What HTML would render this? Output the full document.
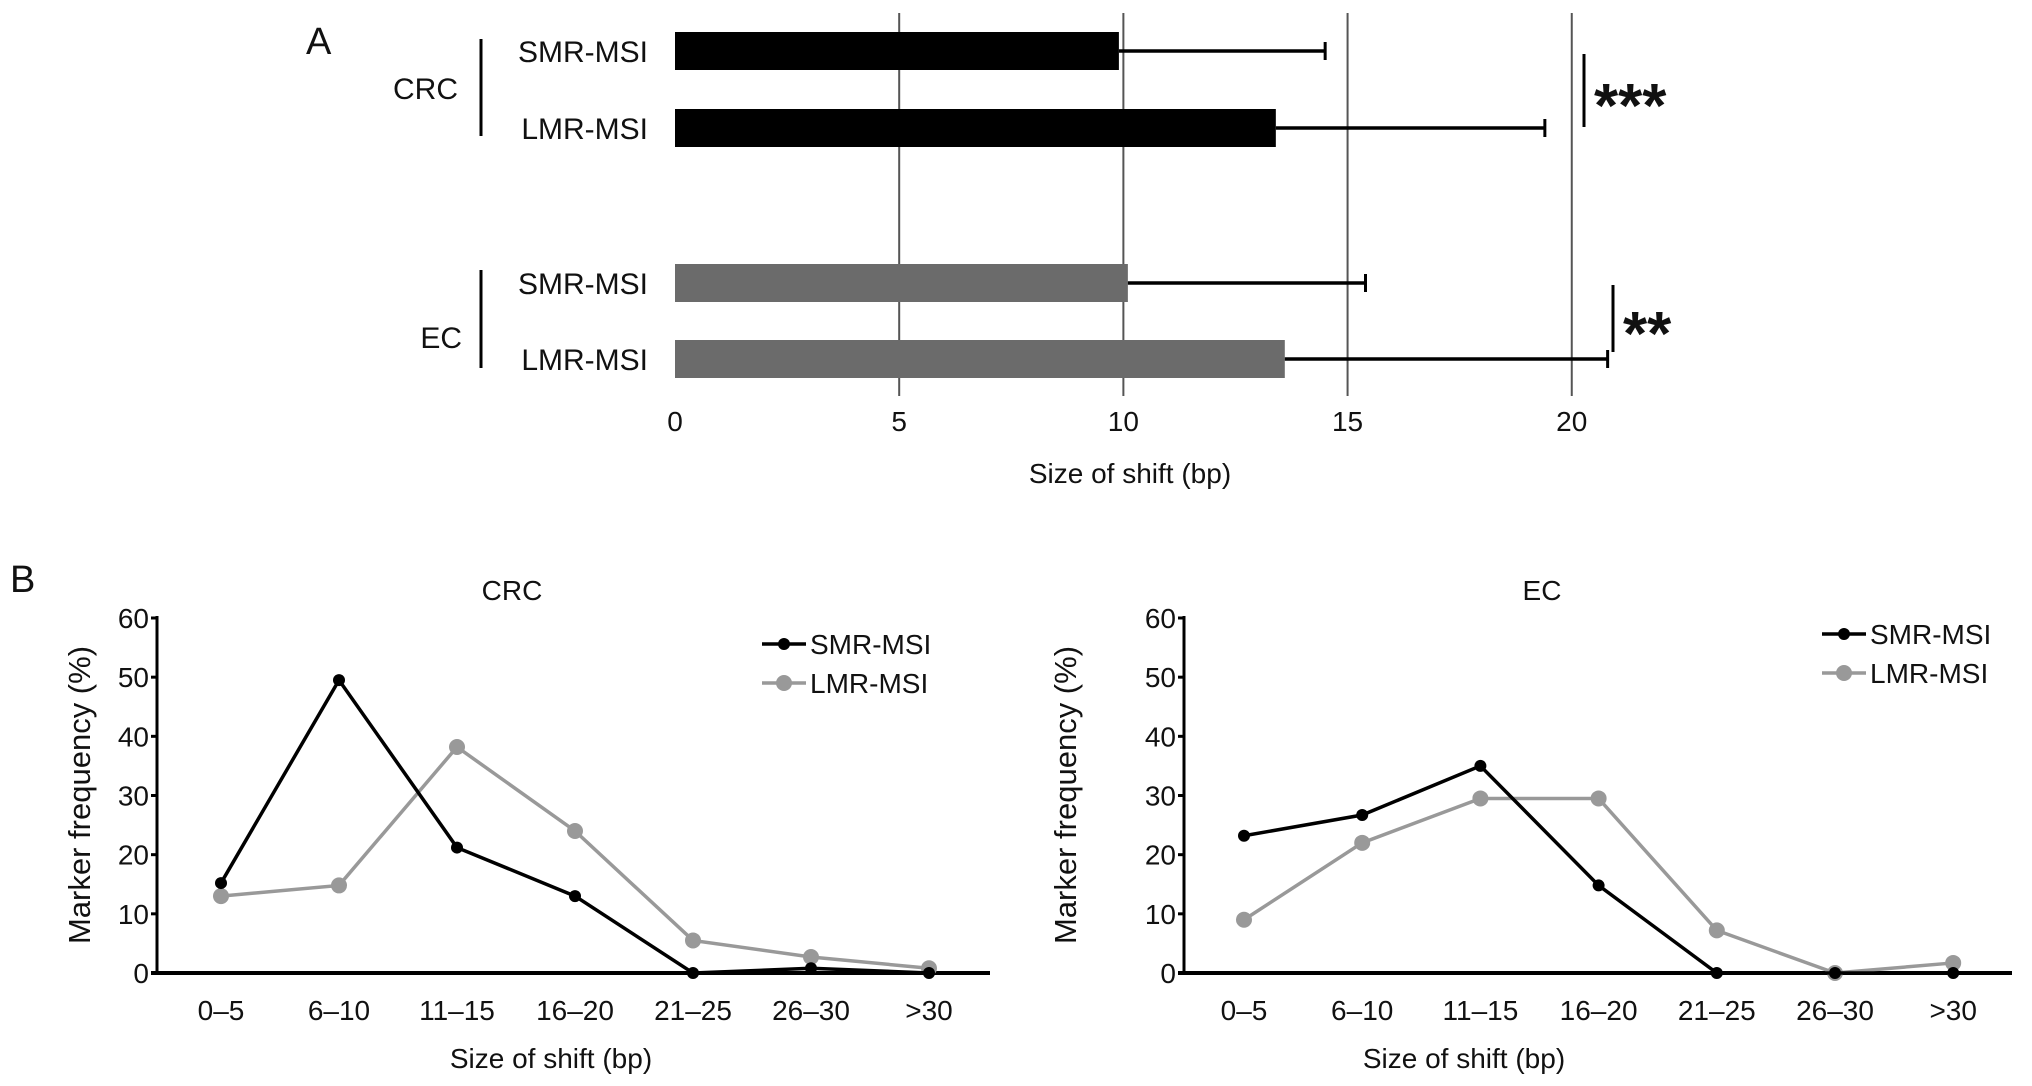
<!DOCTYPE html>
<html><head><meta charset="utf-8"><style>
html,body{margin:0;padding:0;background:#fff;}
svg{display:block;font-family:"Liberation Sans",Arial,sans-serif;}
</style></head><body>
<svg id="fig" width="2032" height="1086" viewBox="0 0 2032 1086">
<g id="panelA"></g>
<g id="panelB1"></g>
<g id="panelB2"></g>
</svg>
<script>
// Panel A data
const aLabels = ["SMR-MSI","LMR-MSI","SMR-MSI","LMR-MSI"];
const aMeans = [9.9, 13.4, 10.1, 13.6];
const aErrors = [14.5, 19.4, 15.4, 20.8];
const aTicks = [0,5,10,15,20];
// Panel B data
const bCategories = ["0–5","6–10","11–15","16–20","21–25","26–30",">30"];
const crcSMR = [15.2, 49.5, 21.2, 13, 0, 0.8, 0];
const crcLMR = [13, 14.8, 38.2, 24, 5.5, 2.7, 0.8];
const ecSMR = [23.2, 26.7, 35, 14.8, 0, 0, 0];
const ecLMR = [9, 22, 29.5, 29.5, 7.2, 0, 1.7];
const bTicks = [0,10,20,30,40,50,60];

const NS="http://www.w3.org/2000/svg";
function mk(parent,tag,attrs,text){const e=document.createElementNS(NS,tag);for(const k in attrs)e.setAttribute(k,attrs[k]);if(text!==undefined)e.textContent=text;parent.appendChild(e);return e;}

// ---------- Panel A ----------
const A=document.getElementById('panelA');
const ax=v=>675+v*34.6*1.2959;
const barTops=[32,109,264,340], barH=38;
const barColors=["#000","#000","#6b6b6b","#6b6b6b"];
aTicks.forEach(t=>{
  if(t>0){const g=mk(A,'line',{x1:ax(t),x2:ax(t),y1:13,y2:396,stroke:'#555','stroke-width':2});
  
  }
  const tl=mk(A,'text',{x:ax(t),y:431,'font-size':28,'text-anchor':'middle',fill:'#111'},String(t));
  
  
});
aMeans.forEach((m,i)=>{
  const r=mk(A,'rect',{x:ax(0),y:barTops[i],width:ax(m)-ax(0),height:barH,fill:barColors[i]});
  
  
  const cy=barTops[i]+barH/2;
  const e=mk(A,'line',{x1:ax(m),x2:ax(aErrors[i]),y1:cy,y2:cy,stroke:'#000','stroke-width':3.5});
  
  
  const c=mk(A,'line',{x1:ax(aErrors[i]),x2:ax(aErrors[i]),y1:cy-9,y2:cy+9,stroke:'#000','stroke-width':3});
  
  
  const l=mk(A,'text',{x:648,y:cy+11,'font-size':30,'text-anchor':'end',fill:'#111'},aLabels[i]);
  
  
});
</script>
<script>
// static elements of panel A
(function(){
const A=document.getElementById('panelA');
const NS="http://www.w3.org/2000/svg";
function mk(p,t,a,x){const e=document.createElementNS(NS,t);for(const k in a)e.setAttribute(k,a[k]);if(x!==undefined)e.textContent=x;p.appendChild(e);return e;}
let e;
e=mk(A,'text',{x:306,y:54,'font-size':38,fill:'#111'},'A');


e=mk(A,'line',{x1:481,x2:481,y1:39,y2:136,stroke:'#000','stroke-width':3});


e=mk(A,'text',{x:458,y:99,'font-size':30,'text-anchor':'end',fill:'#111'},'CRC');


e=mk(A,'line',{x1:481,x2:481,y1:270,y2:368,stroke:'#000','stroke-width':3});


e=mk(A,'text',{x:462,y:348,'font-size':30,'text-anchor':'end',fill:'#111'},'EC');


e=mk(A,'line',{x1:1584,x2:1584,y1:54,y2:127,stroke:'#000','stroke-width':3});


e=mk(A,'text',{x:1594,y:127,'font-size':62,'font-weight':'bold',fill:'#111'},'***');


e=mk(A,'line',{x1:1613,x2:1613,y1:285,y2:352,stroke:'#000','stroke-width':3});


e=mk(A,'text',{x:1623,y:355,'font-size':62,'font-weight':'bold',fill:'#111'},'**');


e=mk(A,'text',{x:1130,y:483,'font-size':28,'text-anchor':'middle',fill:'#111'},'Size of shift (bp)');


})();

// ---------- Panel B ----------
function lineChart(gid,cfg){
  const G=document.getElementById(gid);
  const y=v=>973-v*(973-618)/60;
  const x=i=>cfg.x0+i*cfg.dx;
  let e;
  bTicks.forEach(t=>{
    e=mk(G,'text',{x:cfg.ax-8,y:y(t)+10,'font-size':28,'text-anchor':'end',fill:'#111'},String(t));
    
    
    e=mk(G,'line',{x1:cfg.ax-6,x2:cfg.ax,y1:y(t),y2:y(t),stroke:'#000','stroke-width':3});
    
    
  });
  e=mk(G,'line',{x1:cfg.ax,x2:cfg.ax,y1:y(60)-2,y2:y(0)+2,stroke:'#000','stroke-width':3});
  
  
  e=mk(G,'line',{x1:cfg.ax-6,x2:cfg.axEnd,y1:y(0),y2:y(0),stroke:'#000','stroke-width':4});
  
  
  bCategories.forEach((c,i)=>{
    e=mk(G,'text',{x:x(i),y:1020,'font-size':28,'text-anchor':'middle',fill:'#111'},c);
    
    
  });
  const series=[{d:cfg.lmr,col:'#999',r:8,name:'lmr-msi'},{d:cfg.smr,col:'#000',r:6,name:'smr-msi'}];
  series.forEach(s=>{
    e=mk(G,'polyline',{points:s.d.map((v,i)=>x(i)+','+y(v)).join(' '),fill:'none',stroke:s.col,'stroke-width':3.5});
    
    
    s.d.forEach((v,i)=>{
      e=mk(G,'circle',{cx:x(i),cy:y(v),r:s.r,fill:s.col});
      
      
    });
  });
  // legend
  [{col:'#000',r:6,label:'SMR-MSI',ly:cfg.legY},{col:'#999',r:8,label:'LMR-MSI',ly:cfg.legY+39}].forEach(l=>{
    e=mk(G,'line',{x1:cfg.legX,x2:cfg.legX+44,y1:l.ly,y2:l.ly,stroke:l.col,'stroke-width':3.5});
    
    
    e=mk(G,'circle',{cx:cfg.legX+22,cy:l.ly,r:l.r,fill:l.col});
    
    
    e=mk(G,'text',{x:cfg.legX+48,y:l.ly+10,'font-size':28,fill:'#111'},l.label);
    
    
  });
  e=mk(G,'text',{x:cfg.titleX,y:600,'font-size':28,'text-anchor':'middle',fill:'#111'},cfg.title);
  
  
  e=mk(G,'text',{x:cfg.xtX,y:1068,'font-size':28,'text-anchor':'middle',fill:'#111'},'Size of shift (bp)');
  
  
  e=mk(G,'text',{x:cfg.ytX,y:795,'font-size':31,'text-anchor':'middle',fill:'#111',transform:'rotate(-90 '+cfg.ytX+' 795)'},'Marker frequency (%)');
  
  
}
lineChart('panelB1',{ax:157,axEnd:990,x0:221,dx:118,smr:crcSMR,lmr:crcLMR,legX:762,legY:644,title:'CRC',titleX:512,xtX:551,ytX:90});
lineChart('panelB2',{ax:1184,axEnd:2012,x0:1244,dx:118.2,smr:ecSMR,lmr:ecLMR,legX:1822,legY:634,title:'EC',titleX:1542,xtX:1464,ytX:1076});
(function(){
  const G=document.getElementById('panelB1');
  const e=mk(G,'text',{x:10,y:592,'font-size':38,fill:'#111'},'B');
  
  
})();
</script>
</body></html>
